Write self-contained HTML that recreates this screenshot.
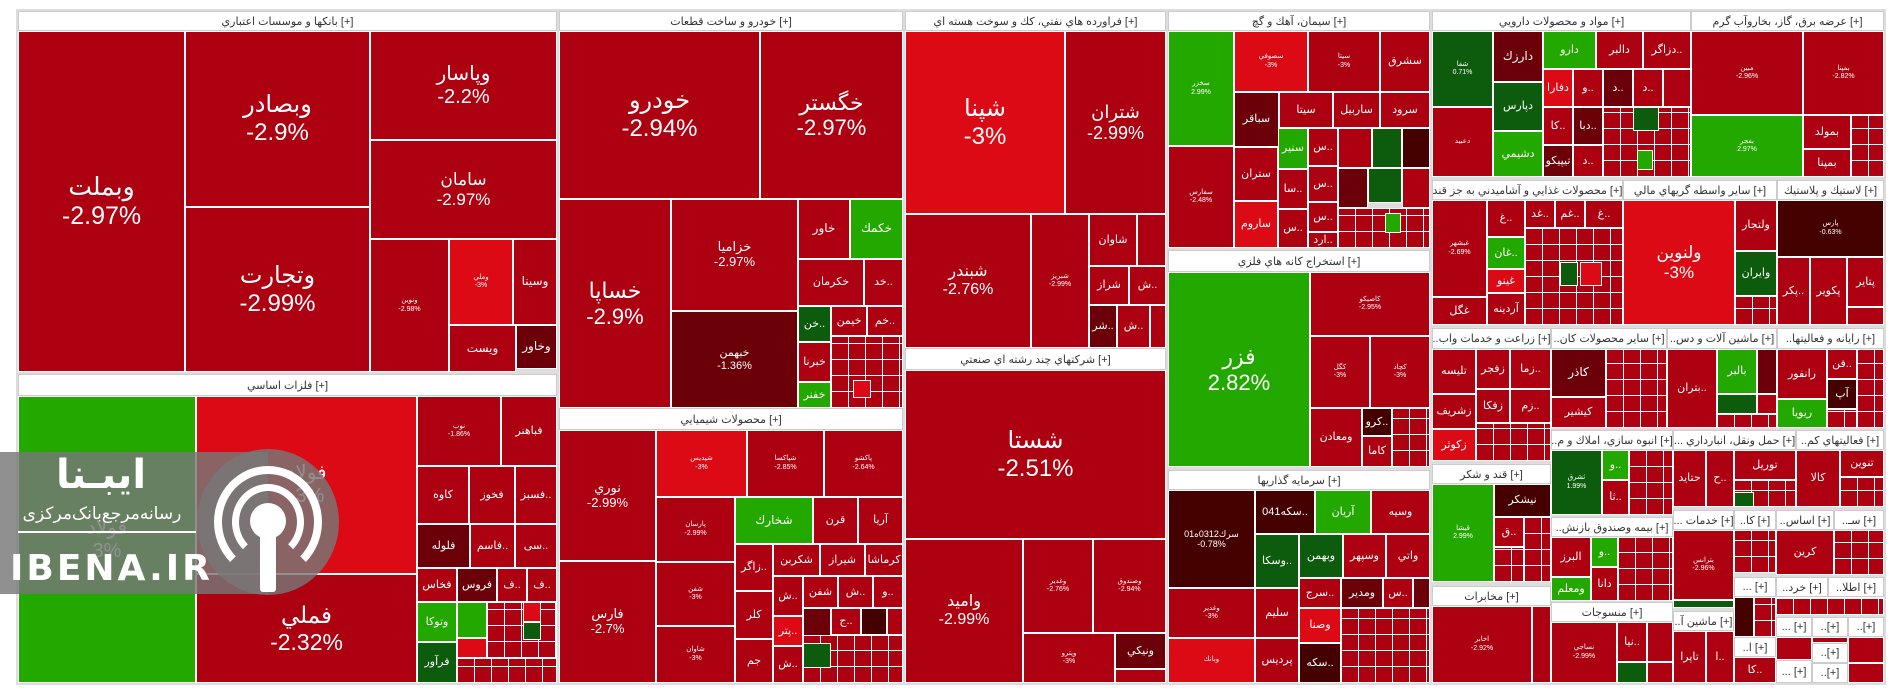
<!DOCTYPE html>
<html><head><meta charset="utf-8">
<style>
body{margin:0;width:1904px;height:698px;background:#fff;position:relative;overflow:hidden;font-family:"Liberation Sans","DejaVu Sans",sans-serif}
div{position:absolute;box-sizing:border-box}
.t{border:1px solid #fff;color:#fff;display:flex;align-items:center;justify-content:center;text-align:center;overflow:hidden;line-height:1.15;font-size:11px;background:#ad0010}
.h{background:#fff;border:1px solid #ccc;color:#333;font-size:11px;display:flex;align-items:center;justify-content:center;overflow:hidden;white-space:nowrap}
.r{background:#ad0010}.b{background:#dc0a14}.g{background:#23a800}.dg{background:#0d5c0d}.m{background:#6b0008}.k{background:#450000}
.s{font-size:7px}
.gr{border:1px solid #fff;background:repeating-linear-gradient(90deg,transparent 0 16px,#fff 16px 17px),repeating-linear-gradient(0deg,transparent 0 15px,#fff 15px 16px),#ad0010}
</style></head><body>
<div style="left:16px;top:9px;width:1870px;height:676px;background:#ddd"></div>

<!-- Banks -->
<div class="h" style="left:18px;top:11px;width:539px;height:20px">بانكها و موسسات اعتباري [+]</div>
<div class="t r" style="left:18px;top:31px;width:167px;height:341px;font-size:25px">وبملت<br>-2.97%</div>
<div class="t r" style="left:185px;top:31px;width:185px;height:176px;font-size:24px">وبصادر<br>-2.9%</div>
<div class="t r" style="left:185px;top:207px;width:185px;height:165px;font-size:24px">وتجارت<br>-2.99%</div>
<div class="t r" style="left:370px;top:31px;width:187px;height:109px;font-size:20px">وپاسار<br>-2.2%</div>
<div class="t r" style="left:370px;top:140px;width:187px;height:99px;font-size:17px">سامان<br>-2.97%</div>
<div class="t r s" style="left:370px;top:239px;width:79px;height:133px">ونوين<br>-2.98%</div>
<div class="t b s" style="left:449px;top:239px;width:64px;height:86px">وملي<br>-3%</div>
<div class="t r" style="left:513px;top:239px;width:44px;height:86px;font-size:12px">وسينا</div>
<div class="t r" style="left:449px;top:325px;width:67px;height:47px;font-size:12px">ويست</div>
<div class="t m" style="left:516px;top:325px;width:41px;height:44px;font-size:12px">وخاور</div>

<!-- Metals -->
<div class="h" style="left:18px;top:374px;width:539px;height:22px">فلزات اساسي [+]</div>
<div class="t g" style="left:18px;top:396px;width:178px;height:287px;font-size:20px">فولاد<br>3%</div>
<div class="t b" style="left:196px;top:396px;width:221px;height:178px;font-size:20px">فولاد<br>-3%</div>
<div class="t r" style="left:196px;top:574px;width:221px;height:109px;font-size:23px">فملي<br>-2.32%</div>
<div class="t r s" style="left:417px;top:396px;width:84px;height:70px">نوب<br>-1.86%</div>
<div class="t r" style="left:501px;top:396px;width:56px;height:70px">فباهنر</div>
<div class="t r" style="left:417px;top:466px;width:52px;height:58px">کاوه</div>
<div class="t r" style="left:469px;top:466px;width:46px;height:58px">فخوز</div>
<div class="t r" style="left:515px;top:466px;width:42px;height:58px">فسبز..</div>
<div class="t m" style="left:417px;top:524px;width:53px;height:44px">فلوله</div>
<div class="t r" style="left:470px;top:524px;width:45px;height:44px">فاسم..</div>
<div class="t r" style="left:515px;top:524px;width:42px;height:44px">سی..</div>
<div class="t r" style="left:417px;top:568px;width:40px;height:34px">فخاس</div>
<div class="t m" style="left:457px;top:568px;width:40px;height:34px">فروس</div>
<div class="t r" style="left:497px;top:568px;width:30px;height:34px">ف..</div>
<div class="t r" style="left:527px;top:568px;width:30px;height:34px">ف..</div>
<div class="t g" style="left:417px;top:602px;width:40px;height:40px">وتوکا</div>
<div class="t dg" style="left:417px;top:642px;width:40px;height:41px">فرآور</div>
<div class="t g" style="left:457px;top:602px;width:30px;height:36px"></div>
<div class="t b" style="left:457px;top:638px;width:30px;height:20px"></div>
<div class="gr" style="left:457px;top:658px;width:100px;height:25px"></div>
<div class="gr" style="left:487px;top:602px;width:70px;height:56px"></div>
<div class="t dg" style="left:523px;top:622px;width:18px;height:18px"></div>
<div class="t b" style="left:523px;top:602px;width:18px;height:20px"></div>

<!-- Car -->
<div class="h" style="left:559px;top:11px;width:344px;height:20px">خودرو و ساخت قطعات [+]</div>
<div class="t r" style="left:559px;top:31px;width:201px;height:168px;font-size:24px">خودرو<br>-2.94%</div>
<div class="t r" style="left:760px;top:31px;width:143px;height:168px;font-size:22px">خگستر<br>-2.97%</div>
<div class="t r" style="left:559px;top:199px;width:112px;height:209px;font-size:22px">خساپا<br>-2.9%</div>
<div class="t r" style="left:671px;top:199px;width:127px;height:112px;font-size:13px">خزاميا<br>-2.97%</div>
<div class="t m" style="left:671px;top:311px;width:127px;height:97px">خبهمن<br>-1.36%</div>
<div class="t r" style="left:798px;top:199px;width:52px;height:60px;font-size:12px">خاور</div>
<div class="t g" style="left:850px;top:199px;width:53px;height:60px;font-size:12px">خكمك</div>
<div class="t r" style="left:798px;top:259px;width:66px;height:47px">خكرمان</div>
<div class="t r" style="left:864px;top:259px;width:39px;height:47px">خد..</div>
<div class="t dg" style="left:798px;top:306px;width:33px;height:36px">خن..</div>
<div class="t r" style="left:831px;top:306px;width:36px;height:30px">خيمن</div>
<div class="t r" style="left:867px;top:306px;width:36px;height:30px">خم..</div>
<div class="t r" style="left:798px;top:342px;width:33px;height:40px">خبرنا</div>
<div class="t g" style="left:798px;top:382px;width:33px;height:26px">خفنر</div>
<div class="gr" style="left:831px;top:336px;width:72px;height:72px"></div>
<div class="t b" style="left:853px;top:380px;width:18px;height:18px"></div>

<!-- Chem -->
<div class="h" style="left:559px;top:408px;width:344px;height:22px">محصولات شيميايي [+]</div>
<div class="t r" style="left:559px;top:430px;width:97px;height:131px;font-size:13px">نوري<br>-2.99%</div>
<div class="t r" style="left:559px;top:561px;width:97px;height:122px;font-size:13px">فارس<br>-2.7%</div>
<div class="t b s" style="left:656px;top:430px;width:91px;height:67px">شپدیس<br>-3%</div>
<div class="t r s" style="left:747px;top:430px;width:77px;height:67px">شپاکسا<br>-2.85%</div>
<div class="t r s" style="left:824px;top:430px;width:79px;height:67px">پاکشو<br>-2.64%</div>
<div class="t r s" style="left:656px;top:497px;width:79px;height:65px">پارسان<br>-2.99%</div>
<div class="t g" style="left:735px;top:497px;width:78px;height:47px;font-size:12px">شخارك</div>
<div class="t r" style="left:813px;top:497px;width:45px;height:47px">قرن</div>
<div class="t r" style="left:858px;top:497px;width:45px;height:47px">آريا</div>
<div class="t r s" style="left:656px;top:562px;width:79px;height:64px">شفن<br>-3%</div>
<div class="t r" style="left:735px;top:544px;width:38px;height:47px">زاگر..</div>
<div class="t r" style="left:773px;top:544px;width:47px;height:32px">شكربن</div>
<div class="t r" style="left:820px;top:544px;width:45px;height:32px">شيراز</div>
<div class="t r" style="left:865px;top:544px;width:38px;height:32px">كرماشا</div>
<div class="t r s" style="left:656px;top:626px;width:79px;height:57px">شاوان<br>-3%</div>
<div class="t r" style="left:735px;top:591px;width:38px;height:48px">كلر</div>
<div class="t r" style="left:735px;top:639px;width:38px;height:44px">جم</div>
<div class="t r" style="left:773px;top:576px;width:30px;height:40px">ش..</div>
<div class="t r" style="left:803px;top:576px;width:35px;height:32px">شفن</div>
<div class="t r" style="left:838px;top:576px;width:35px;height:32px">ش..</div>
<div class="t r" style="left:873px;top:576px;width:30px;height:32px">و..</div>
<div class="t b" style="left:773px;top:616px;width:30px;height:30px">پتر..</div>
<div class="t r" style="left:773px;top:646px;width:30px;height:37px">ش..</div>
<div class="t m" style="left:803px;top:608px;width:28px;height:35px"></div>
<div class="t r" style="left:831px;top:608px;width:30px;height:27px">ج..</div>
<div class="t k" style="left:861px;top:608px;width:26px;height:27px"></div>
<div class="t r" style="left:887px;top:608px;width:16px;height:27px"></div>
<div class="gr" style="left:803px;top:635px;width:100px;height:48px"></div>
<div class="t dg" style="left:803px;top:643px;width:28px;height:25px"></div>

<!-- Oil -->
<div class="h" style="left:905px;top:11px;width:261px;height:20px">فراورده هاي نفتي، كك و سوخت هسته اي [+]</div>
<div class="t b" style="left:905px;top:31px;width:160px;height:183px;font-size:24px">شپنا<br>-3%</div>
<div class="t r" style="left:1065px;top:31px;width:101px;height:183px;font-size:18px">شتران<br>-2.99%</div>
<div class="t r" style="left:905px;top:214px;width:126px;height:134px;font-size:16px">شبندر<br>-2.76%</div>
<div class="t r s" style="left:1031px;top:214px;width:58px;height:134px">شبريز<br>-2.99%</div>
<div class="t r" style="left:1089px;top:214px;width:48px;height:52px">شاوان</div>
<div class="t r" style="left:1137px;top:214px;width:29px;height:52px"></div>
<div class="t r" style="left:1089px;top:266px;width:40px;height:39px">شراز</div>
<div class="t r" style="left:1129px;top:266px;width:37px;height:39px">ش..</div>
<div class="t m" style="left:1089px;top:305px;width:28px;height:43px">شر..</div>
<div class="t r" style="left:1117px;top:305px;width:33px;height:43px">ش..</div>
<div class="t r" style="left:1150px;top:305px;width:16px;height:43px"></div>

<!-- Multi -->
<div class="h" style="left:905px;top:348px;width:261px;height:22px">شركتهاي چند رشته اي صنعتي [+]</div>
<div class="t r" style="left:905px;top:370px;width:261px;height:169px;font-size:24px">شستا<br>-2.51%</div>
<div class="t r" style="left:905px;top:539px;width:118px;height:144px;font-size:16px">وامید<br>-2.99%</div>
<div class="t r s" style="left:1023px;top:539px;width:70px;height:94px">وغدير<br>-2.76%</div>
<div class="t r s" style="left:1093px;top:539px;width:73px;height:94px">وصندوق<br>-2.94%</div>
<div class="t r s" style="left:1023px;top:633px;width:92px;height:50px">وپترو<br>-3%</div>
<div class="t m" style="left:1115px;top:633px;width:51px;height:36px">ونيكي</div>
<div class="t r" style="left:1115px;top:669px;width:51px;height:14px"></div>

<!-- Cement -->
<div class="h" style="left:1168px;top:11px;width:262px;height:20px">سيمان، آهك و گچ [+]</div>
<div class="t g s" style="left:1168px;top:31px;width:66px;height:115px">سخزر<br>2.99%</div>
<div class="t r s" style="left:1168px;top:146px;width:66px;height:102px">سفارس<br>-2.48%</div>
<div class="t b s" style="left:1234px;top:31px;width:74px;height:61px">سصوفي<br>-3%</div>
<div class="t r s" style="left:1308px;top:31px;width:72px;height:61px">سيتا<br>-3%</div>
<div class="t r" style="left:1380px;top:31px;width:50px;height:61px">سشرق</div>
<div class="t m" style="left:1234px;top:92px;width:45px;height:55px">سباقر</div>
<div class="t r" style="left:1279px;top:92px;width:54px;height:36px">سيتا</div>
<div class="t r" style="left:1333px;top:92px;width:47px;height:36px">ساربيل</div>
<div class="t r" style="left:1380px;top:92px;width:50px;height:36px">سرود</div>
<div class="t r" style="left:1234px;top:147px;width:44px;height:54px">ستران</div>
<div class="t b" style="left:1234px;top:201px;width:44px;height:47px">ساروم</div>
<div class="t g" style="left:1278px;top:128px;width:30px;height:41px">سنير</div>
<div class="t r" style="left:1278px;top:169px;width:30px;height:40px">سا..</div>
<div class="t r" style="left:1278px;top:209px;width:30px;height:39px">س..</div>
<div class="t r" style="left:1308px;top:128px;width:30px;height:38px">س..</div>
<div class="t r" style="left:1308px;top:166px;width:30px;height:36px">س..</div>
<div class="t r" style="left:1308px;top:202px;width:30px;height:30px">س..</div>
<div class="t r" style="left:1308px;top:232px;width:30px;height:16px">ارد..</div>
<div class="t r" style="left:1338px;top:128px;width:34px;height:40px"></div>
<div class="t dg" style="left:1372px;top:128px;width:30px;height:40px"></div>
<div class="t k" style="left:1402px;top:128px;width:28px;height:40px"></div>
<div class="t m" style="left:1338px;top:168px;width:30px;height:40px"></div>
<div class="t dg" style="left:1368px;top:168px;width:34px;height:35px"></div>
<div class="t r" style="left:1402px;top:168px;width:28px;height:40px"></div>
<div class="gr" style="left:1338px;top:208px;width:92px;height:40px"></div>
<div class="t g" style="left:1385px;top:213px;width:16px;height:20px"></div>

<!-- Estekhraj -->
<div class="h" style="left:1168px;top:250px;width:262px;height:22px">استخراج كانه هاي فلزي [+]</div>
<div class="t g" style="left:1168px;top:272px;width:142px;height:195px;font-size:22px">فزر<br>2.82%</div>
<div class="t r s" style="left:1310px;top:272px;width:120px;height:64px">كاصيكو<br>-2.95%</div>
<div class="t r s" style="left:1310px;top:336px;width:60px;height:72px">كگل<br>-3%</div>
<div class="t r s" style="left:1370px;top:336px;width:60px;height:72px">كچاد<br>-3%</div>
<div class="t r" style="left:1310px;top:408px;width:52px;height:59px">ومعادن</div>
<div class="t k" style="left:1362px;top:408px;width:30px;height:28px">كرو..</div>
<div class="gr" style="left:1392px;top:408px;width:38px;height:59px"></div>
<div class="t r" style="left:1362px;top:436px;width:30px;height:31px">كاما</div>

<!-- Sarmayeh -->
<div class="h" style="left:1168px;top:470px;width:262px;height:20px">سرمايه گذاريها [+]</div>
<div class="t k" style="left:1168px;top:490px;width:87px;height:98px;font-size:9px">سرك0312ه01<br>-0.78%</div>
<div class="t k" style="left:1255px;top:490px;width:60px;height:44px">سكه041..</div>
<div class="t g" style="left:1315px;top:490px;width:56px;height:44px">آريان</div>
<div class="t r" style="left:1371px;top:490px;width:59px;height:44px">وسيه</div>
<div class="t r s" style="left:1168px;top:588px;width:87px;height:50px">وغدير<br>-3%</div>
<div class="t b s" style="left:1168px;top:638px;width:87px;height:45px">وبانك</div>
<div class="t dg" style="left:1255px;top:534px;width:44px;height:54px">وسكا..</div>
<div class="t dg" style="left:1299px;top:534px;width:44px;height:44px">وبهمن</div>
<div class="t r" style="left:1343px;top:534px;width:43px;height:44px">وسپهر</div>
<div class="t r" style="left:1386px;top:534px;width:44px;height:44px">واتي</div>
<div class="t r" style="left:1255px;top:588px;width:44px;height:50px">سليم</div>
<div class="t r" style="left:1299px;top:578px;width:42px;height:30px">سرج..</div>
<div class="t m" style="left:1341px;top:578px;width:42px;height:30px">ومدير</div>
<div class="t r" style="left:1383px;top:578px;width:30px;height:30px">س..</div>
<div class="t m" style="left:1413px;top:578px;width:17px;height:30px"></div>
<div class="t b" style="left:1299px;top:608px;width:42px;height:35px">وصنا</div>
<div class="t r" style="left:1255px;top:638px;width:44px;height:45px">پرديس</div>
<div class="t k" style="left:1299px;top:643px;width:42px;height:40px">سكه..</div>
<div class="gr" style="left:1341px;top:608px;width:89px;height:75px"></div>

<!-- Pharma -->
<div class="h" style="left:1432px;top:11px;width:259px;height:20px">مواد و محصولات دارويي [+]</div>
<div class="t dg s" style="left:1432px;top:31px;width:61px;height:76px">شفا<br>0.71%</div>
<div class="t r s" style="left:1432px;top:107px;width:61px;height:70px">دعبيد</div>
<div class="t m" style="left:1493px;top:31px;width:50px;height:51px;font-size:12px">دارزك</div>
<div class="t g" style="left:1543px;top:31px;width:53px;height:38px">دارو</div>
<div class="t r" style="left:1596px;top:31px;width:47px;height:38px">دالبر</div>
<div class="t r" style="left:1643px;top:31px;width:48px;height:38px">دزاگر..</div>
<div class="t dg" style="left:1493px;top:82px;width:50px;height:49px">دپارس</div>
<div class="t g" style="left:1493px;top:131px;width:50px;height:46px">دشيمي</div>
<div class="t b" style="left:1543px;top:69px;width:30px;height:38px">دفارا</div>
<div class="t r" style="left:1573px;top:69px;width:30px;height:38px">و..</div>
<div class="t m" style="left:1603px;top:69px;width:30px;height:38px">د..</div>
<div class="t r" style="left:1633px;top:69px;width:30px;height:38px">د..</div>
<div class="t r" style="left:1663px;top:69px;width:28px;height:38px"></div>
<div class="t r" style="left:1543px;top:107px;width:30px;height:38px">كا..</div>
<div class="t m" style="left:1573px;top:107px;width:30px;height:38px">دبا..</div>
<div class="t m" style="left:1543px;top:145px;width:30px;height:32px">تيپيكو</div>
<div class="t r" style="left:1573px;top:145px;width:30px;height:32px">د..</div>
<div class="gr" style="left:1603px;top:107px;width:88px;height:70px"></div>
<div class="t dg" style="left:1633px;top:107px;width:26px;height:24px"></div>
<div class="t g" style="left:1637px;top:150px;width:16px;height:20px"></div>

<!-- Electricity -->
<div class="h" style="left:1691px;top:11px;width:193px;height:20px">عرضه برق، گاز، بخاروآب گرم [+]</div>
<div class="t r s" style="left:1691px;top:31px;width:112px;height:84px">مبين<br>-2.96%</div>
<div class="t r s" style="left:1803px;top:31px;width:81px;height:84px">بمپنا<br>-2.82%</div>
<div class="t g s" style="left:1691px;top:115px;width:112px;height:62px">بفجر<br>2.97%</div>
<div class="t r" style="left:1803px;top:115px;width:48px;height:34px">بمولد</div>
<div class="t r" style="left:1803px;top:149px;width:48px;height:28px">بمپنا</div>
<div class="gr" style="left:1851px;top:115px;width:33px;height:62px"></div>

<!-- Food -->
<div class="h" style="left:1432px;top:180px;width:191px;height:20px">محصولات غذايي و آشاميدني به جز قند [+]</div>
<div class="t r s" style="left:1432px;top:200px;width:55px;height:97px">غبشهر<br>-2.69%</div>
<div class="t r" style="left:1432px;top:297px;width:55px;height:28px">غگل</div>
<div class="t r" style="left:1487px;top:200px;width:38px;height:37px">غ..</div>
<div class="t g" style="left:1487px;top:237px;width:38px;height:32px">غان..</div>
<div class="t b" style="left:1487px;top:269px;width:38px;height:24px">غينو</div>
<div class="t r" style="left:1487px;top:293px;width:38px;height:32px">آردينه</div>
<div class="t r" style="left:1525px;top:200px;width:30px;height:28px">غد..</div>
<div class="t r" style="left:1555px;top:200px;width:30px;height:28px">غم..</div>
<div class="t r" style="left:1585px;top:200px;width:38px;height:28px">غ..</div>
<div class="gr" style="left:1525px;top:228px;width:98px;height:97px"></div>
<div class="t dg" style="left:1560px;top:262px;width:18px;height:24px"></div>
<div class="t b" style="left:1580px;top:262px;width:22px;height:24px"></div>

<!-- Vaseteh -->
<div class="h" style="left:1623px;top:180px;width:154px;height:20px">ساير واسطه گريهاي مالي [+]</div>
<div class="t b" style="left:1623px;top:200px;width:112px;height:125px;font-size:17px">ولنوين<br>-3%</div>
<div class="t r" style="left:1735px;top:200px;width:42px;height:51px">ولتجار</div>
<div class="t dg" style="left:1735px;top:251px;width:42px;height:45px">وايران</div>
<div class="gr" style="left:1735px;top:296px;width:42px;height:29px"></div>

<!-- Lastik -->
<div class="h" style="left:1777px;top:180px;width:107px;height:20px">لاستيك و پلاستيك [+]</div>
<div class="t k s" style="left:1777px;top:200px;width:107px;height:57px">پارس<br>-0.63%</div>
<div class="t r" style="left:1777px;top:257px;width:33px;height:68px">پكر..</div>
<div class="t r" style="left:1810px;top:257px;width:37px;height:68px">پكوير</div>
<div class="t r" style="left:1847px;top:257px;width:37px;height:50px">پتاير</div>
<div class="t r" style="left:1847px;top:307px;width:37px;height:18px"></div>

<!-- Row 328 -->
<div class="h" style="left:1432px;top:328px;width:119px;height:21px">..زراعت و خدمات واب [+]</div>
<div class="t r" style="left:1432px;top:349px;width:44px;height:45px">تليسه</div>
<div class="t r" style="left:1432px;top:394px;width:44px;height:35px">زشريف</div>
<div class="t b" style="left:1432px;top:429px;width:44px;height:32px">زكوثر</div>
<div class="t r" style="left:1476px;top:349px;width:34px;height:40px">زفجر</div>
<div class="t r" style="left:1510px;top:349px;width:41px;height:40px">زما..</div>
<div class="t r" style="left:1476px;top:389px;width:34px;height:34px">زفكا</div>
<div class="t r" style="left:1510px;top:389px;width:41px;height:34px">زم..</div>
<div class="gr" style="left:1476px;top:423px;width:75px;height:38px"></div>

<div class="h" style="left:1551px;top:328px;width:116px;height:21px">..ساير محصولات كان [+]</div>
<div class="t m" style="left:1551px;top:349px;width:55px;height:48px;font-size:12px">كاذر</div>
<div class="t r" style="left:1551px;top:397px;width:55px;height:31px">كيشير</div>
<div class="gr" style="left:1606px;top:349px;width:61px;height:79px"></div>

<div class="h" style="left:1667px;top:328px;width:110px;height:21px">..ماشين آلات و دس [+]</div>
<div class="t r" style="left:1667px;top:349px;width:50px;height:79px">بتران..</div>
<div class="t g" style="left:1717px;top:349px;width:40px;height:45px">بالبر</div>
<div class="t m" style="left:1757px;top:349px;width:20px;height:45px"></div>
<div class="t dg" style="left:1717px;top:394px;width:40px;height:20px"></div>
<div class="t r" style="left:1757px;top:394px;width:20px;height:20px"></div>
<div class="gr" style="left:1717px;top:414px;width:60px;height:14px"></div>

<div class="h" style="left:1777px;top:328px;width:107px;height:21px">..رايانه و فعاليتها [+]</div>
<div class="t r" style="left:1777px;top:349px;width:50px;height:50px">رانفور</div>
<div class="t r" style="left:1827px;top:349px;width:30px;height:30px">فن..</div>
<div class="t k" style="left:1827px;top:379px;width:30px;height:30px">آپ</div>
<div class="t g" style="left:1777px;top:399px;width:50px;height:29px">ريويا</div>
<div class="gr" style="left:1857px;top:349px;width:27px;height:79px"></div>
<div class="gr" style="left:1827px;top:409px;width:30px;height:19px"></div>

<!-- Ghand / Mokhaberat -->
<div class="h" style="left:1432px;top:464px;width:119px;height:20px">قند و شكر [+]</div>
<div class="t g s" style="left:1432px;top:484px;width:62px;height:98px">قيشا<br>2.99%</div>
<div class="t k" style="left:1494px;top:484px;width:57px;height:33px">نيشكر</div>
<div class="t r" style="left:1494px;top:517px;width:30px;height:30px">ق..</div>
<div class="gr" style="left:1524px;top:517px;width:27px;height:65px"></div>
<div class="gr" style="left:1494px;top:547px;width:30px;height:35px"></div>
<div class="h" style="left:1432px;top:586px;width:119px;height:20px">مخابرات [+]</div>
<div class="t r s" style="left:1432px;top:606px;width:100px;height:77px">اخابر<br>-2.92%</div>
<div class="t r" style="left:1532px;top:606px;width:19px;height:77px"></div>

<div class="h" style="left:1551px;top:430px;width:122px;height:20px">..انبوه سازي، املاك و م [+]</div>
<div class="t dg s" style="left:1551px;top:450px;width:51px;height:65px">ثشرق<br>1.99%</div>
<div class="t g" style="left:1602px;top:450px;width:27px;height:30px">و..</div>
<div class="t r" style="left:1602px;top:480px;width:27px;height:35px">ثا..</div>
<div class="gr" style="left:1629px;top:450px;width:44px;height:65px"></div>
<div class="h" style="left:1551px;top:517px;width:122px;height:20px">..بيمه وصندوق بازنش [+]</div>
<div class="t r" style="left:1551px;top:537px;width:40px;height:40px">البرز</div>
<div class="t g" style="left:1591px;top:537px;width:27px;height:30px">و..</div>
<div class="t g" style="left:1551px;top:577px;width:40px;height:24px">ومعلم</div>
<div class="t r" style="left:1591px;top:567px;width:27px;height:34px">دانا</div>
<div class="gr" style="left:1618px;top:537px;width:55px;height:64px"></div>
<div class="h" style="left:1551px;top:602px;width:122px;height:20px">منسوجات [+]</div>
<div class="t r s" style="left:1551px;top:622px;width:66px;height:61px">نساجي<br>-2.99%</div>
<div class="t r" style="left:1617px;top:622px;width:30px;height:40px">نيا..</div>
<div class="t r" style="left:1647px;top:622px;width:26px;height:40px"></div>
<div class="t dg" style="left:1617px;top:662px;width:30px;height:21px"></div>
<div class="t r" style="left:1647px;top:662px;width:26px;height:21px"></div>

<div class="h" style="left:1673px;top:430px;width:123px;height:20px">... حمل ونقل، انبارداري [+]</div>
<div class="t r" style="left:1673px;top:450px;width:33px;height:57px">حتايد</div>
<div class="t r" style="left:1706px;top:450px;width:28px;height:57px">ح..</div>
<div class="t r" style="left:1734px;top:450px;width:62px;height:30px">توريل</div>
<div class="gr" style="left:1734px;top:480px;width:62px;height:27px"></div>
<div class="t dg" style="left:1734px;top:492px;width:20px;height:15px"></div>
<div class="h" style="left:1796px;top:430px;width:88px;height:20px">..فعاليتهاي كم [+]</div>
<div class="t r" style="left:1796px;top:450px;width:44px;height:57px">كالا</div>
<div class="t r" style="left:1840px;top:450px;width:44px;height:27px">تنوين</div>
<div class="gr" style="left:1840px;top:477px;width:44px;height:30px"></div>

<div class="h" style="left:1673px;top:510px;width:61px;height:20px">... خدمات [+]</div>
<div class="h" style="left:1734px;top:510px;width:42px;height:20px">..كا [+]</div>
<div class="h" style="left:1776px;top:510px;width:58px;height:20px">..اساس [+]</div>
<div class="h" style="left:1834px;top:510px;width:50px;height:20px">..سـ [+]</div>
<div class="t r s" style="left:1673px;top:530px;width:61px;height:70px">بترانس<br>-2.96%</div>
<div class="gr" style="left:1734px;top:530px;width:42px;height:43px"></div>
<div class="t r" style="left:1776px;top:530px;width:58px;height:45px">كرين</div>
<div class="gr" style="left:1834px;top:530px;width:50px;height:45px"></div>
<div class="t dg" style="left:1673px;top:600px;width:61px;height:8px"></div>
<div class="h" style="left:1734px;top:577px;width:42px;height:20px">... [+]</div>
<div class="h" style="left:1776px;top:577px;width:52px;height:20px">..خرد [+]</div>
<div class="h" style="left:1828px;top:577px;width:56px;height:20px">..اطلا [+]</div>
<div class="t k" style="left:1734px;top:597px;width:20px;height:40px"></div>
<div class="gr" style="left:1754px;top:597px;width:22px;height:40px"></div>
<div class="gr" style="left:1776px;top:597px;width:108px;height:18px"></div>
<div class="h" style="left:1673px;top:611px;width:61px;height:20px">..ماشين آ [+]</div>
<div class="t r" style="left:1673px;top:631px;width:33px;height:52px">تاپرا</div>
<div class="t r" style="left:1706px;top:631px;width:28px;height:52px">ا..</div>
<div class="h" style="left:1776px;top:617px;width:36px;height:20px">... [+]</div>
<div class="h" style="left:1812px;top:617px;width:36px;height:20px">..[+]</div>
<div class="h" style="left:1848px;top:617px;width:36px;height:20px">..[+]</div>
<div class="h" style="left:1734px;top:637px;width:42px;height:20px">..ا [+]</div>
<div class="t r" style="left:1734px;top:657px;width:42px;height:26px">كا..</div>
<div class="t r" style="left:1776px;top:637px;width:36px;height:23px"></div>
<div class="h" style="left:1776px;top:660px;width:36px;height:23px">... [+]</div>
<div class="h" style="left:1812px;top:643px;width:36px;height:20px">..[+]</div>
<div class="h" style="left:1812px;top:663px;width:36px;height:20px">..[+]</div>
<div class="t r" style="left:1812px;top:637px;width:36px;height:6px"></div>
<div class="t r" style="left:1848px;top:637px;width:36px;height:26px"></div>
<div class="t r" style="left:1848px;top:663px;width:36px;height:20px"></div>

<!-- Watermark -->
<div style="left:0;top:452px;width:268px;height:142px;background:rgba(120,120,120,0.82)"></div>
<div style="left:197px;top:449px;width:142px;height:146px;border-radius:50%;background:rgba(120,120,120,0.82)"></div>
<div style="left:214px;top:466px;width:108px;height:112px;border-radius:50%;border:8px solid #fff;border-bottom-color:transparent"></div>
<div style="left:232px;top:484px;width:72px;height:76px;border-radius:50%;border:7px solid #fff;border-bottom-color:transparent"></div>
<div style="left:250px;top:503px;width:36px;height:36px;border-radius:50%;background:#fff"></div>
<div style="left:260px;top:530px;width:16px;height:62px;background:#fff;border-radius:3px"></div>
<div style="left:6px;top:452px;width:190px;height:50px;color:#fff;font-size:40px;font-weight:bold;text-align:center;font-family:'DejaVu Sans',sans-serif">ایبـنا</div>
<div style="left:8px;top:504px;width:188px;height:22px;color:#fff;font-size:17px;text-align:center;font-family:'DejaVu Sans',sans-serif">رسانه‌مرجع‌بانک‌مرکزی</div>
<div style="left:18px;top:531px;width:178px;height:2px;background:#fff"></div>
<div style="left:10px;top:548px;width:190px;height:44px;color:#fff;font-size:36px;font-weight:bold;letter-spacing:3px;font-family:'DejaVu Sans',sans-serif">IBENA.IR</div>
</body></html>
